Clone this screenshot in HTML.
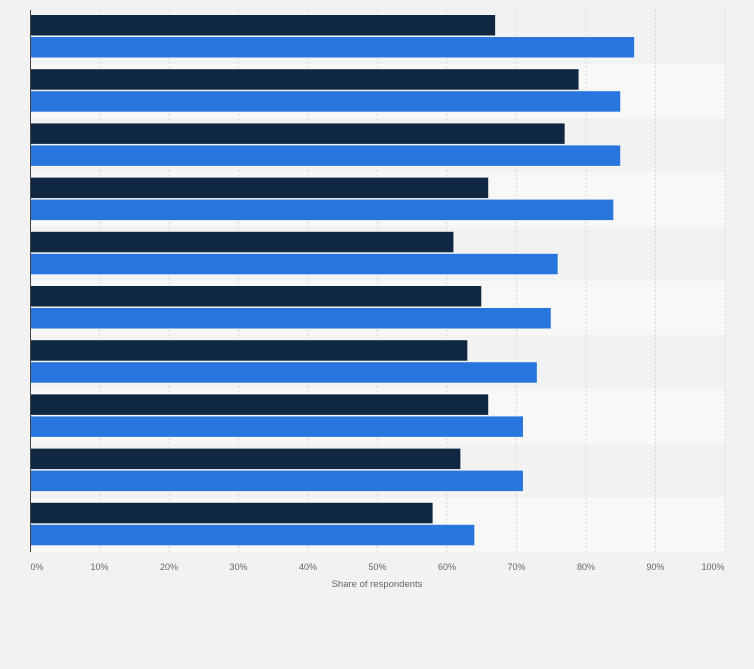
<!DOCTYPE html>
<html><head><meta charset="utf-8"><style>
body{margin:0;background:#f2f2f2;}
svg{display:block;font-family:"Liberation Sans",sans-serif;}
</style></head><body>
<svg width="754" height="669" viewBox="0 0 754 669">
<rect width="754" height="669" fill="#f2f2f2"/>
<g>
<rect x="30" y="10" width="695" height="54.2" fill="#f2f2f2"/>
<rect x="30" y="64.2" width="695" height="54.2" fill="#f8f8f8"/>
<rect x="30" y="118.4" width="695" height="54.2" fill="#f2f2f2"/>
<rect x="30" y="172.6" width="695" height="54.2" fill="#f8f8f8"/>
<rect x="30" y="226.8" width="695" height="54.2" fill="#f2f2f2"/>
<rect x="30" y="281" width="695" height="54.2" fill="#f8f8f8"/>
<rect x="30" y="335.2" width="695" height="54.2" fill="#f2f2f2"/>
<rect x="30" y="389.4" width="695" height="54.2" fill="#f8f8f8"/>
<rect x="30" y="443.6" width="695" height="54.2" fill="#f2f2f2"/>
<rect x="30" y="497.8" width="695" height="54.2" fill="#f8f8f8"/>
</g>
<g stroke="#d8d8d8" stroke-dasharray="2,2">
<line x1="99.5" y1="10" x2="99.5" y2="552"/><line x1="169" y1="10" x2="169" y2="552"/>
<line x1="238.5" y1="10" x2="238.5" y2="552"/><line x1="308" y1="10" x2="308" y2="552"/>
<line x1="377.5" y1="10" x2="377.5" y2="552"/><line x1="447" y1="10" x2="447" y2="552"/>
<line x1="516.5" y1="10" x2="516.5" y2="552"/><line x1="586" y1="10" x2="586" y2="552"/>
<line x1="655.5" y1="10" x2="655.5" y2="552"/><line x1="725" y1="10" x2="725" y2="552"/>
</g>
<g fill="#0f2741" stroke="#f5f5f5" stroke-width="1">
<rect x="30" y="14.5" width="465.65" height="21.5"/>
<rect x="30" y="68.7" width="549.05" height="21.5"/>
<rect x="30" y="122.9" width="535.15" height="21.5"/>
<rect x="30" y="177.1" width="458.7" height="21.5"/>
<rect x="30" y="231.3" width="423.95" height="21.5"/>
<rect x="30" y="285.5" width="451.75" height="21.5"/>
<rect x="30" y="339.7" width="437.85" height="21.5"/>
<rect x="30" y="393.9" width="458.7" height="21.5"/>
<rect x="30" y="448.1" width="430.9" height="21.5"/>
<rect x="30" y="502.3" width="403.1" height="21.5"/>
</g>
<g fill="#2876dd" stroke="#f5f5f5" stroke-width="1">
<rect x="30" y="36.5" width="604.65" height="21.5"/>
<rect x="30" y="90.7" width="590.75" height="21.5"/>
<rect x="30" y="144.9" width="590.75" height="21.5"/>
<rect x="30" y="199.1" width="583.8" height="21.5"/>
<rect x="30" y="253.3" width="528.2" height="21.5"/>
<rect x="30" y="307.5" width="521.25" height="21.5"/>
<rect x="30" y="361.7" width="507.35" height="21.5"/>
<rect x="30" y="415.9" width="493.45" height="21.5"/>
<rect x="30" y="470.1" width="493.45" height="21.5"/>
<rect x="30" y="524.3" width="444.8" height="21.5"/>
</g>
<line x1="30.5" y1="10" x2="30.5" y2="552" stroke="#444" stroke-width="1"/>
<g font-size="9" fill="#666" text-anchor="middle">
<text x="37" y="570">0%</text><text x="99.5" y="570">10%</text><text x="169" y="570">20%</text>
<text x="238.5" y="570">30%</text><text x="308" y="570">40%</text><text x="377.5" y="570">50%</text>
<text x="447" y="570">60%</text><text x="516.5" y="570">70%</text><text x="586" y="570">80%</text>
<text x="655.5" y="570">90%</text><text x="713" y="570">100%</text>
</g>
<text x="377" y="587" font-size="9.5" fill="#666" text-anchor="middle">Share of respondents</text>
</svg>
</body></html>
